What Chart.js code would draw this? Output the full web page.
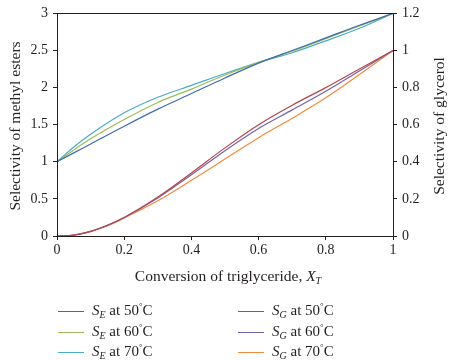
<!DOCTYPE html>
<html>
<head>
<meta charset="utf-8">
<script src="https://cdn.jsdelivr.net/npm/chart.js@4/dist/chart.umd.min.js"></script>
<style>
  body { margin: 0; background: #fff; }
  #wrap { position: relative; width: 452px; height: 360px; font-family: "Liberation Serif", "DejaVu Serif", serif; color: #231f20; }
  #chart { position: absolute; left: 0; top: 0; }
  #xtitle { position: absolute; left: 0; width: 456px; top: 267px; text-align: center; font-size: 15.5px; }
  .ytitle { position: absolute; width: 240px; height: 20px; line-height: 20px; text-align: center; font-size: 15.5px; transform: rotate(-90deg); white-space: nowrap; }
  .leg { position: absolute; font-size: 15px; height: 20px; line-height: 20px; white-space: nowrap; }
  .leg .ln { display: inline-block; width: 26px; height: 0; border-top: 1.5px solid; vertical-align: middle; margin-right: 8px; }
  sub { font-size: 10px; vertical-align: -3px; line-height: 0; }
  sup { font-size: 9px; vertical-align: 6px; line-height: 0; }
</style>
</head>
<body>
<div id="wrap">
  <canvas id="chart" width="452" height="360"></canvas>
  <div class="ytitle" style="left:-105px; top:116px;">Selectivity of methyl esters</div>
  <div class="ytitle" style="left:319px; top:116px;">Selectivity of glycerol</div>
  <div id="xtitle">Conversion of triglyceride, <i>X</i><sub><i>T</i></sub></div>
  <div id="legend"></div>
</div>
<script>
// conversion of triglyceride X_T
const xE = [0, 0.05, 0.1, 0.2, 0.3, 0.4, 0.5, 0.6, 0.7, 0.8, 0.9, 1];
const se50 = [1, 1.12, 1.24, 1.48, 1.71, 1.92, 2.13, 2.33, 2.50, 2.67, 2.84, 3];
const se60 = [1, 1.16, 1.31, 1.57, 1.80, 1.98, 2.17, 2.34, 2.49, 2.66, 2.83, 3];
const se70 = [1, 1.20, 1.37, 1.66, 1.87, 2.03, 2.19, 2.34, 2.47, 2.63, 2.80, 3];

const xG = [0, 0.05, 0.1, 0.15, 0.2, 0.3, 0.4, 0.5, 0.6, 0.7, 0.8, 0.9, 1];
const sg50 = [0, 0.005, 0.025, 0.058, 0.10, 0.21, 0.34, 0.475, 0.60, 0.705, 0.80, 0.90, 1];
const sg60 = [0, 0.005, 0.025, 0.057, 0.10, 0.205, 0.33, 0.46, 0.58, 0.68, 0.78, 0.89, 1];
const sg70 = [0, 0.005, 0.024, 0.055, 0.097, 0.19, 0.30, 0.415, 0.53, 0.635, 0.745, 0.87, 1];

const colors = ['#3d6cb3', '#9bbb59', '#4bacc6', '#b5474b', '#7563a8', '#f28a3c'];
const temps = ['50', '60', '70'];

function pts(xs, ys) {
    return xs.map((x, i) => ({ x: x, y: ys[i] }));
}

const series = [
    { sym: 'E', t: temps[0], data: pts(xE, se50), axis: 'y' },
    { sym: 'E', t: temps[1], data: pts(xE, se60), axis: 'y' },
    { sym: 'E', t: temps[2], data: pts(xE, se70), axis: 'y' },
    { sym: 'G', t: temps[0], data: pts(xG, sg50), axis: 'y2' },
    { sym: 'G', t: temps[1], data: pts(xG, sg60), axis: 'y2' },
    { sym: 'G', t: temps[2], data: pts(xG, sg70), axis: 'y2' }
];

const ink = '#231f20';
const tickFont = { family: '"Liberation Serif", serif', size: 14 };
const plain = v => String(+v.toFixed(2));

// box round the plot
const frame = {
    id: 'frame',
    afterDraw(chart) {
        const a = chart.chartArea;
        const c = chart.ctx;
        c.save();
        c.strokeStyle = ink;
        c.lineWidth = 1;
        c.strokeRect(Math.round(a.left) + 0.5, Math.round(a.top) + 0.5, Math.round(a.right - a.left), Math.round(a.bottom - a.top));
        c.restore();
    }
};

new Chart(document.getElementById('chart'), {
    type: 'line',
    data: {
        datasets: series.map((s, i) => ({
            label: 'S' + s.sym + ' at ' + s.t + '°C',
            data: s.data,
            yAxisID: s.axis,
            borderColor: colors[i],
            borderWidth: 1.2,
            pointRadius: 0,
            fill: false,
            cubicInterpolationMode: 'monotone'
        }))
    },
    options: {
        responsive: false,
        animation: false,
        layout: { padding: { left: 0, right: 0, top: 10, bottom: 100 } },
        plugins: { legend: { display: false }, tooltip: { enabled: false } },
        scales: {
            x: {
                type: 'linear', min: 0, max: 1,
                afterFit(s) { s.height = 24; },
                ticks: { stepSize: 0.2, color: ink, font: tickFont, padding: 2, maxRotation: 0, callback: plain },
                grid: { drawOnChartArea: false, tickLength: 4, color: ink },
                border: { color: ink }
            },
            y: {
                position: 'left', min: 0, max: 3,
                afterFit(s) { s.width = 57; },
                ticks: { stepSize: 0.5, color: ink, font: tickFont, padding: 5, callback: plain },
                grid: { drawOnChartArea: false, tickLength: 4, color: ink },
                border: { color: ink }
            },
            y2: {
                position: 'right', min: 0, max: 1.2,
                afterFit(s) { s.width = 59; },
                ticks: { stepSize: 0.2, color: ink, font: tickFont, padding: 5, callback: plain },
                grid: { drawOnChartArea: false, tickLength: 4, color: ink },
                border: { color: ink }
            }
        }
    },
    plugins: [frame]
});

// legend with subscripts, two columns
const legend = document.getElementById('legend');
series.forEach((s, i) => {
    const col = Math.floor(i / 3);
    const row = i % 3;
    const item = document.createElement('div');
    item.className = 'leg';
    item.style.left = (col === 0 ? 58 : 238) + 'px';
    item.style.top = (300 + row * 20.5) + 'px';
    item.innerHTML = `<span class="ln" style="border-color:${colors[i]}"></span><i>S</i><sub><i>${s.sym}</i></sub> at ${s.t}<sup>°</sup>C`;
    legend.appendChild(item);
});
</script>
</body>
</html>
